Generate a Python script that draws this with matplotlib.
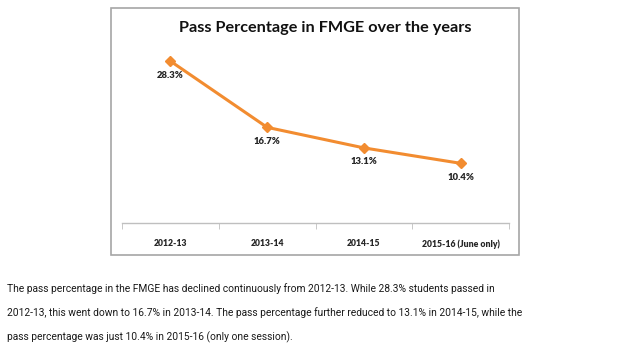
import numpy as np
import matplotlib.pyplot as plt
from matplotlib.patches import Rectangle

years = ['2012-13', '2013-14', '2014-15', '2015-16 (June only)']
pass_pct = [28.3, 16.7, 13.1, 10.4]
labels = ['28.3%', '16.7%', '13.1%', '10.4%']

caption = ["The pass percentage in the FMGE has declined continuously from 2012-13. While 28.3% students passed in",
           "2012-13, this went down to 16.7% in 2013-14. The pass percentage further reduced to 13.1% in 2014-15, while the",
           "pass percentage was just 10.4% in 2015-16 (only one session)."]

W, H = 628, 351
fig = plt.figure(figsize=(W / 100, H / 100), dpi=100)
fig.patch.set_facecolor('white')

# chart frame
fig.patches.append(Rectangle((111 / W, 1 - 255 / H), 408 / W, 247 / H,
                             transform=fig.transFigure, fill=False,
                             edgecolor='#a6a6a6', lw=1.2))

ax = fig.add_axes([122 / W, 1 - 222.7 / H, 387 / W, 171.3 / H])
x = np.arange(len(years))
ax.plot(x, pass_pct, color='#f28c30', lw=2.2, marker='D', ms=5)
for xi, v, t in zip(x, pass_pct, labels):
    ax.annotate(t, (xi, v), xytext=(0, -14), textcoords='offset pixels',
                ha='center', va='center', fontsize=6.8, fontweight='heavy',
                family='Lato', color='#262626')

ax.set_xlim(-0.5, 3.5)
ax.set_ylim(0, 30)
for s in ['top', 'right', 'left']:
    ax.spines[s].set_visible(False)
ax.spines['bottom'].set_color('#bfbfbf')
ax.spines['bottom'].set_linewidth(1)
ax.set_yticks([])
ax.set_xticks(x)
ax.set_xticklabels(years, fontsize=6.2, fontweight='heavy', family='Lato',
                   color='#262626')
ax.tick_params(axis='x', which='major', length=0, pad=12)
ax.set_xticks(np.arange(-0.5, 4, 1), minor=True)
ax.tick_params(axis='x', which='minor', length=4, color='#bfbfbf', direction='out')

fig.text(325 / W, 1 - 28 / H, 'Pass Percentage in FMGE over the years',
         ha='center', va='center', fontsize=11.7, fontweight='bold',
         family='Lato', color='#111111')

for i, line in enumerate(caption):
    fig.text(7 / W, 1 - (292 + 24 * i) / H, line, ha='left', va='baseline',
             fontsize=7.4, family='Roboto', color='#1a1a1a')

fig.savefig('out.png', dpi=100)
